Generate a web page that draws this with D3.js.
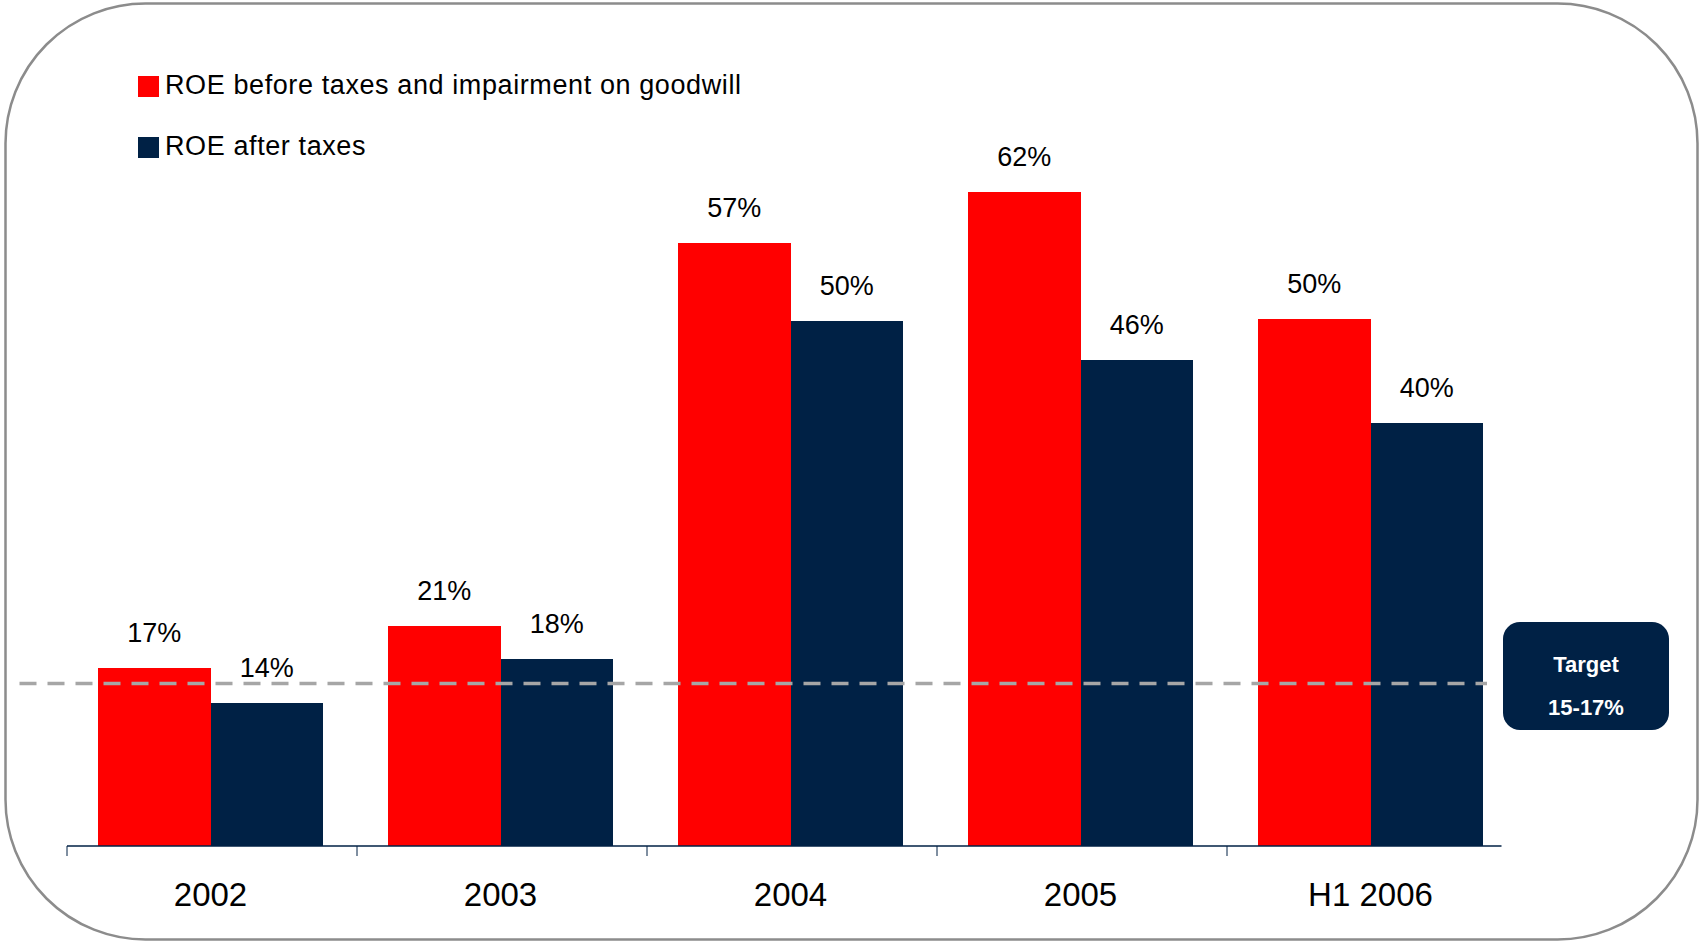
<!DOCTYPE html>
<html>
<head>
<meta charset="utf-8">
<script src="https://cdn.jsdelivr.net/npm/d3@7"></script>
<style>
  body { margin: 0; background: #fff; }
  svg { display: block; font-family: "Liberation Sans", Arial, sans-serif; }
</style>
</head>
<body>
<div id="chart"></div>
<script>
//chart data
var categories = ["2002", "2003", "2004", "2005", "H1 2006"];
var roeBefore = [16.9, 20.9, 57.2, 62.0, 50.0];
var roeAfter = [13.6, 17.7, 49.8, 46.1, 40.1];
var seriesNames = ["ROE before taxes and impairment on goodwill", "ROE after taxes"];
var seriesColors = ["#ff0000", "#002145"];
var targetValue = 15.4;
var targetLabel = ["Target", "15-17%"];

var width = 1701, height = 943;

var svg = d3.select("#chart").append("svg")
    .attr("width", width)
    .attr("height", height);

//rounded frame
svg.append("rect")
    .attr("x", 5.5).attr("y", 3.5)
    .attr("width", 1692).attr("height", 936)
    .attr("rx", 140).attr("ry", 140)
    .attr("fill", "#fff")
    .attr("stroke", "#8c8c8c")
    .attr("stroke-width", 2.5);

//scales
var x0 = d3.scaleBand()
    .domain(categories)
    .range([65.5, 1515.5])
    .paddingInner(0.225)
    .paddingOuter(0.1125);

var x1 = d3.scaleBand()
    .domain([0, 1])
    .range([0, x0.bandwidth()]);

var y = d3.scaleLinear()
    .domain([0, 70])
    .range([846, 107.85]);

var rows = categories.map(function(c, i) {
  return { cat: c, values: [roeBefore[i], roeAfter[i]] };
});

//bars
var groups = svg.selectAll("g.cat")
    .data(rows)
  .enter().append("g")
    .attr("class", "cat")
    .attr("transform", function(d) { return "translate(" + x0(d.cat) + ",0)"; });

groups.selectAll("rect")
    .data(function(d) { return d.values; })
  .enter().append("rect")
    .attr("x", function(d, i) { return x1(i); })
    .attr("y", function(d) { return y(d); })
    .attr("width", x1.bandwidth())
    .attr("height", function(d) { return y(0) - y(d); })
    .attr("shape-rendering", "crispEdges")
    .attr("fill", function(d, i) { return seriesColors[i]; });

//value labels
groups.selectAll("text")
    .data(function(d) { return d.values; })
  .enter().append("text")
    .attr("x", function(d, i) { return x1(i) + x1.bandwidth() / 2; })
    .attr("y", function(d) { return y(d) - 26; })
    .attr("text-anchor", "middle")
    .attr("font-size", 27)
    .attr("fill", "#000")
    .text(function(d) { return Math.round(d) + "%"; });

//target line
var step = x0.step();
var axisStart = x0.range()[0] + 1.5;
var axisEnd = x0.range()[1] - 14;

svg.append("line")
    .attr("x1", 19.5).attr("x2", 1487)
    .attr("y1", y(targetValue)).attr("y2", y(targetValue))
    .attr("stroke", "#a6a6a6")
    .attr("stroke-width", 3.5)
    .attr("stroke-dasharray", "17,11");

//x axis
svg.append("line")
    .attr("x1", axisStart).attr("x2", axisEnd)
    .attr("y1", y(0)).attr("y2", y(0))
    .attr("stroke", "#002145")
    .attr("stroke-width", 1.5);

svg.selectAll("line.tick")
    .data(categories)
  .enter().append("line")
    .attr("class", "tick")
    .attr("x1", function(d, i) { return axisStart + i * step; })
    .attr("x2", function(d, i) { return axisStart + i * step; })
    .attr("y1", y(0)).attr("y2", y(0) + 10)
    .attr("stroke", "#002145")
    .attr("stroke-width", 1);

svg.selectAll("text.cat-label")
    .data(categories)
  .enter().append("text")
    .attr("class", "cat-label")
    .attr("x", function(d) { return x0(d) + x0.bandwidth() / 2; })
    .attr("y", y(0) + 60)
    .attr("text-anchor", "middle")
    .attr("font-size", 33)
    .attr("fill", "#000")
    .text(function(d) { return d; });

//legend
var legend = svg.selectAll("g.legend")
    .data(seriesNames)
  .enter().append("g")
    .attr("class", "legend")
    .attr("transform", function(d, i) { return "translate(138," + (76 + i * 61) + ")"; });

legend.append("rect")
    .attr("width", 21).attr("height", 21)
    .attr("fill", function(d, i) { return seriesColors[i]; });

legend.append("text")
    .attr("x", 27).attr("y", 18)
    .attr("font-size", 27)
    .attr("letter-spacing", 0.6)
    .attr("fill", "#000")
    .text(function(d) { return d; });

//target box
var box = svg.append("g").attr("transform", "translate(1503,622)");
box.append("rect")
    .attr("width", 166).attr("height", 108)
    .attr("rx", 17).attr("ry", 17)
    .attr("fill", "#002145");
box.selectAll("text")
    .data(targetLabel)
  .enter().append("text")
    .attr("x", 83)
    .attr("y", function(d, i) { return 50 + i * 43; })
    .attr("text-anchor", "middle")
    .attr("font-size", 22)
    .attr("font-weight", "bold")
    .attr("fill", "#fff")
    .text(function(d) { return d; });
</script>
</body>
</html>
